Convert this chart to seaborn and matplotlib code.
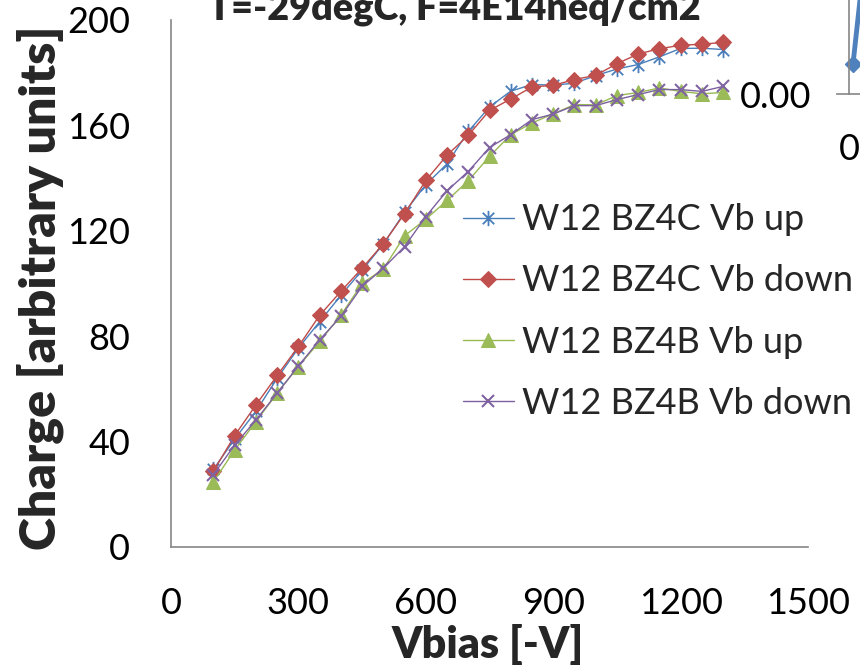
import matplotlib
matplotlib.use("Agg")
import matplotlib.pyplot as plt
from matplotlib.path import Path
import seaborn as sns

# bias voltage points [-V]
vbias = [100, 150, 200, 250, 300, 350, 400, 450, 500, 550, 600, 650, 700,
         750, 800, 850, 900, 950, 1000, 1050, 1100, 1150, 1200, 1250, 1300]

# charge [arbitrary units]
bz4c_up = [29.5, 41, 51.5, 64, 75.5, 85.5, 95.5, 105, 115, 127, 137.5, 145.4, 157.7,
           167, 173, 175.5, 175.3, 176, 178.9, 181.4, 183.1, 186, 189.2, 189.3, 188.8]
bz4c_down = [28.8, 42.3, 53.9, 65.1, 76.1, 87.9, 97, 105.8, 115.1, 126.5, 139.1, 148.7, 156.2,
             165.7, 170, 174.6, 175.2, 177.4, 179, 183.4, 187.1, 189.1, 190.4, 190.8, 191.5]
bz4b_up = [24.8, 36.8, 47.6, 58.4, 68.5, 78, 87.9, 100, 105.5, 118.1, 124.4, 131.5, 139,
           148.2, 156.5, 160.9, 164.4, 167.9, 167.8, 171.3, 172.5, 174.2, 172.9, 172, 172.5]
bz4b_down = [27.5, 38.7, 48.2, 58.4, 68.7, 78.6, 87.5, 98.9, 105.8, 114, 125.4, 135.2, 142.5,
             151.6, 156.5, 162.2, 164.3, 167.5, 167.5, 169.8, 171.7, 173.6, 173.6, 172.9, 174.8]

labels = ["W12 BZ4C Vb up", "W12 BZ4C Vb down", "W12 BZ4B Vb up", "W12 BZ4B Vb down"]
xticks = [0, 300, 600, 900, 1200, 1500]
yticks = [0, 40, 80, 120, 160, 200]

# neighbouring chart fragment (top right edge)
frag_x = [0.04, 0.11, 0.14]
frag_y = [0.30, 0.94, 1.25]

# Excel-style asterisk marker (vertical bar + X)
ASTER = Path(
    [(0, -1), (0, 1), (-0.75, -0.75), (0.75, 0.75), (-0.75, 0.75), (0.75, -0.75)],
    [Path.MOVETO, Path.LINETO, Path.MOVETO, Path.LINETO, Path.MOVETO, Path.LINETO],
)

STYLES = [
    dict(color="#4A7EBB", marker=ASTER, markersize=11, markerfacecolor="none",
         markeredgecolor="#4A7EBB", markeredgewidth=1.3),
    dict(color="#BE4B48", marker="D", markersize=8, markerfacecolor="#C0504D",
         markeredgecolor="#C0504D"),
    dict(color="#98B954", marker="^", markersize=10, markerfacecolor="#9BBB59",
         markeredgecolor="#9BBB59"),
    dict(color="#7D60A0", marker="x", markersize=9, markeredgecolor="#8064A2",
         markeredgewidth=1.5),
]

sns.set_theme(style="white")
plt.rcParams["font.family"] = ["Lato", "DejaVu Sans"]
GRAY = "#868686"

fig = plt.figure(figsize=(8.6, 6.68), dpi=100)
ax = fig.add_axes([171 / 860, (668 - 547) / 668, 637 / 860, 527 / 668])

for vals, lbl, st in zip([bz4c_up, bz4c_down, bz4b_up, bz4b_down], labels, STYLES):
    sns.lineplot(x=vbias, y=vals, ax=ax, label=lbl, linewidth=1.0, **st)

ax.set_xlim(0, 1500)
ax.set_ylim(0, 200)
ax.set_xticks(xticks)
ax.set_yticks(yticks)
ax.tick_params(axis="both", direction="out", length=9.4, width=1, color=GRAY,
               labelsize=26, labelcolor="black")
ax.tick_params(axis="x", pad=19.5)
ax.tick_params(axis="y", pad=20)
for side in ("top", "right"):
    ax.spines[side].set_visible(False)
for side in ("left", "bottom"):
    ax.spines[side].set_color(GRAY)
    ax.spines[side].set_linewidth(1.2)

ax.set_xlabel("Vbias [-V]", fontsize=31, fontweight="heavy", va="baseline")
ax.xaxis.set_label_coords((487.5 - 171) / 637, (547 - 658) / 527)
ax.set_ylabel("Charge [arbitrary units]", fontsize=36, fontweight="heavy", va="center")
ax.yaxis.set_label_coords((40 - 171) / 637, (547 - 288) / 527)

ax.legend(loc="center left", bbox_to_anchor=(463 / 860, (668 - 311.5) / 668),
          bbox_transform=fig.transFigure, frameon=False, fontsize=26,
          handlelength=1.41, handletextpad=0.22, labelspacing=0.78,
          borderpad=0, borderaxespad=0, numpoints=1)

fig.text(454 / 860, (668 - 20) / 668, "T=-29degC, F=4E14neq/cm2",
         ha="center", va="baseline", fontsize=27.2, fontweight="heavy")

# fragment of the adjacent chart
ax2 = fig.add_axes([837 / 860, (668 - 94) / 668, 100 / 860, 100 / 668])
ax2.set_facecolor("none")
ax2.plot(frag_x, frag_y, color="#4F81BD", linewidth=3.5, marker="D",
         markersize=8, markevery=[0])
ax2.set_xlim(-0.12, 0.88)
ax2.set_ylim(0, 1)
ax2.spines["left"].set_position(("data", 0))
for side in ("top", "right"):
    ax2.spines[side].set_visible(False)
for side in ("left", "bottom"):
    ax2.spines[side].set_color(GRAY)
    ax2.spines[side].set_linewidth(1.2)
ax2.set_xticks([0])
ax2.set_xticklabels(["0"])
ax2.set_yticks([0])
ax2.set_yticklabels(["0.00"])
ax2.tick_params(axis="both", direction="out", length=9.4, width=1, color=GRAY,
                labelsize=26, labelcolor="black")
ax2.tick_params(axis="x", pad=19)
ax2.tick_params(axis="y", pad=18)

fig.savefig("out.png", dpi=100)
